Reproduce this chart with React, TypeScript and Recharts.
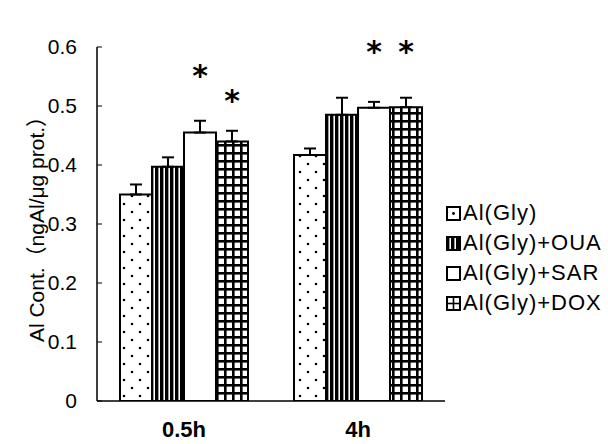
import { Bar, BarChart, ErrorBar, LabelList, XAxis, YAxis } from "recharts";

const times = ["0.5h", "4h"];
const alGly = [0.35, 0.417];
const alGlyOua = [0.397, 0.485];
const alGlySar = [0.455, 0.497];
const alGlyDox = [0.44, 0.498];
const errGly = [0.017, 0.011];
const errOua = [0.016, 0.029];
const errSar = [0.02, 0.01];
const errDox = [0.018, 0.016];
// asterisk marks and the height (in Al units) where each one sits
const starSar = ["*", "*"];
const starDox = ["*", "*"];
const starSarAt = [0.557, 0.598];
const starDoxAt = [0.515, 0.598];
const noStar = ["", ""];
const yTicks = [0, 0.1, 0.2, 0.3, 0.4, 0.5, 0.6];

const W = 608;
const H = 444;
const MARGIN = { top: 47, right: 163, bottom: 0, left: 0 };
const X_AXIS_H = 43;
const Y_AXIS_W = 97;
const PX_PER_UNIT = (H - MARGIN.top - MARGIN.bottom - X_AXIS_H) / 0.6;
const FONT = '"Liberation Sans", Arial, "Noto Sans CJK JP", sans-serif';

const series = [
  { key: "gly", name: "Al(Gly)", values: alGly, errs: errGly, stars: noStar, starAt: noStar, fill: "url(#pDots)", icon: "dots" },
  { key: "oua", name: "Al(Gly)+OUA", values: alGlyOua, errs: errOua, stars: noStar, starAt: noStar, fill: "url(#pStripes)", icon: "stripes" },
  { key: "sar", name: "Al(Gly)+SAR", values: alGlySar, errs: errSar, stars: starSar, starAt: starSarAt, fill: "#fff", icon: "blank" },
  { key: "dox", name: "Al(Gly)+DOX", values: alGlyDox, errs: errDox, stars: starDox, starAt: starDoxAt, fill: "url(#pGrid)", icon: "grid" },
];

const data = times.map((t, i) => {
  const row: Record<string, unknown> = { time: t };
  series.forEach((s) => {
    row[s.key] = s.values[i];
    row[s.key + "Err"] = [0, s.errs[i]];
    row[s.key + "Star"] = s.stars[i];
  });
  return row;
});

function Patterns() {
  return (
    <svg width={0} height={0} style={{ position: "absolute" }}>
      <defs>
        <pattern id="pDots" width={16} height={16} patternUnits="userSpaceOnUse">
          <rect width={16} height={16} fill="#fff" />
          <circle cx={4} cy={4} r={1.3} fill="#000" />
          <circle cx={12} cy={12} r={1.3} fill="#000" />
        </pattern>
        <pattern id="pStripes" width={5} height={5} patternUnits="userSpaceOnUse">
          <rect width={5} height={5} fill="#000" />
          <rect x={3.4} width={1.6} height={5} fill="#fff" />
        </pattern>
        <pattern id="pGrid" width={8} height={8} patternUnits="userSpaceOnUse">
          <rect width={8} height={8} fill="#000" />
          <rect x={2.6} y={2.6} width={5.4} height={5.4} fill="#fff" />
        </pattern>
      </defs>
    </svg>
  );
}

function LegendIcon({ kind }: { kind: string }) {
  return (
    <svg width={15} height={15} style={{ marginRight: 2, flex: "none" }}>
      {kind === "stripes" && <rect x={1} y={1} width={13} height={13} fill="url(#pStripes)" />}
      {kind === "grid" && (
        <g stroke="#000" strokeWidth={1.6}>
          <line x1={7.5} y1={1} x2={7.5} y2={14} />
          <line x1={1} y1={7.5} x2={14} y2={7.5} />
        </g>
      )}
      {kind === "dots" && <circle cx={7.5} cy={7.5} r={1.4} fill="#000" />}
      <rect x={1} y={1} width={13} height={13} fill="none" stroke="#000" strokeWidth={2} />
    </svg>
  );
}

function LegendBox() {
  return (
    <div
      style={{
        position: "absolute",
        left: 446,
        top: 198,
        fontFamily: FONT,
        fontSize: 22,
        letterSpacing: 1,
        color: "#000",
      }}
    >
      {series.map((s) => (
        <div key={s.key} style={{ display: "flex", alignItems: "center", height: 30, whiteSpace: "nowrap" }}>
          <LegendIcon kind={s.icon} />
          <span>{s.name}</span>
        </div>
      ))}
    </div>
  );
}

function starLabel(values: number[], starAt: (number | string)[]) {
  return (props: any) => {
    const { x, y, width, value, index } = props;
    if (!value) return null;
    const cy = Number(y) - (Number(starAt[index]) - values[index]) * PX_PER_UNIT;
    return (
      <text
        x={Number(x) + Number(width) / 2}
        y={cy + 14}
        textAnchor="middle"
        fontFamily='"DejaVu Sans", sans-serif'
        fontWeight="bold"
        fontSize={30}
        fill="#000"
      >
        {value}
      </text>
    );
  };
}

export default function App() {
  return (
    <div style={{ position: "absolute", left: 0, top: 0, width: W, height: H, background: "#fff" }}>
      <Patterns />
      <BarChart
        width={W}
        height={H}
        data={data}
        margin={MARGIN}
        barGap={0}
        barCategoryGap={23}
      >
        <XAxis
          dataKey="time"
          height={X_AXIS_H}
          tickLine={false}
          tickSize={0}
          tickMargin={20}
          axisLine={{ stroke: "#000", strokeWidth: 1.5 }}
          tick={{ fill: "#000", fontFamily: FONT, fontSize: 22, fontWeight: "bold" }}
        />
        <YAxis
          width={Y_AXIS_W}
          domain={[0, 0.6]}
          ticks={yTicks}
          allowDataOverflow
          tickSize={-5}
          tickMargin={25}
          tickFormatter={(v) => (v === 0 ? "0" : Number(v).toFixed(1))}
          axisLine={{ stroke: "#000", strokeWidth: 1.5 }}
          tickLine={{ stroke: "#000", strokeWidth: 1 }}
          tick={{ fill: "#000", fontFamily: FONT, fontSize: 21 }}
          label={{
            value: "Al Cont.（ngAl/μg prot.）",
            angle: -90,
            position: "center",
            dx: -12,
            style: { fill: "#000", fontFamily: FONT, fontSize: 21 },
          }}
        />
        {series.map((s) => (
          <Bar
            key={s.key}
            dataKey={s.key}
            name={s.name}
            fill={s.fill}
            stroke="#000"
            strokeWidth={2}
            isAnimationActive={false}
          >
            <ErrorBar dataKey={s.key + "Err"} width={6} stroke="#000" strokeWidth={2} />
            <LabelList dataKey={s.key + "Star"} content={starLabel(s.values, s.starAt)} />
          </Bar>
        ))}
      </BarChart>
      <LegendBox />
    </div>
  );
}
